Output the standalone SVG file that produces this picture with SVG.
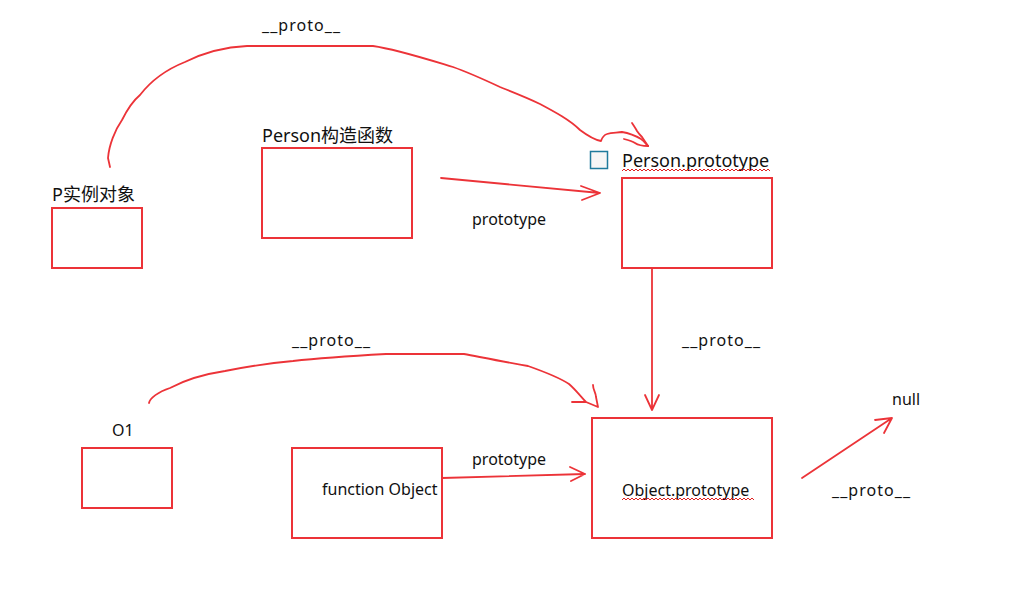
<svg xmlns="http://www.w3.org/2000/svg" width="1036" height="593" viewBox="0 0 1036 593">
<style>
.box{fill:none;stroke:#ec3338;stroke-width:2}
.ln{fill:none;stroke:#ec3338;stroke-width:1.8;stroke-linecap:round;stroke-linejoin:round}
.big{font-family:"Noto Sans","Noto Sans CJK SC",sans-serif;font-size:18px;fill:#111}
.sm{font-family:"Noto Sans","Liberation Sans",sans-serif;font-size:16px;fill:#111}
.wavy{fill:none;stroke:#e02020;stroke-width:1}
</style>
<defs>
<path id="wave4" d="m0,0 l1,-1.5 l1,1.5 l1,1.5 l1,-1.5"/>
</defs>
<rect width="1036" height="593" fill="#ffffff"/>
<g id="node-p">
<text class="big" x="52" y="201">P实例对象</text>
<rect class="box" x="52" y="208" width="90" height="60"/>
</g>
<g id="node-person">
<text class="big" x="262" y="142">Person构造函数</text>
<rect class="box" x="262" y="148" width="150" height="90"/>
</g>
<g id="node-person-prototype">
<rect x="590.5" y="151.5" width="17" height="17" fill="#f6f6f6" stroke="#1f7a9c" stroke-width="1.5"/>
<text class="big" x="622" y="167">Person.prototype</text>
<path class="wavy" d="M622,171 l2,-2 l2,2 l2,-2 l2,2 l2,-2 l2,2 l2,-2 l2,2 l2,-2 l2,2 l2,-2 l2,2 l2,-2 l2,2 l2,-2 l2,2 l2,-2 l2,2 l2,-2 l2,2 l2,-2 l2,2 l2,-2 l2,2 l2,-2 l2,2 l2,-2 l2,2 l2,-2 l2,2 l2,-2 l2,2 l2,-2 l2,2 l2,-2 l2,2 l2,-2 l2,2 l2,-2 l2,2 l2,-2 l2,2 l2,-2 l2,2 l2,-2 l2,2 l2,-2 l2,2 l2,-2 l2,2 l2,-2 l2,2 l2,-2 l2,2 l2,-2 l2,2 l2,-2 l2,2 l2,-2 l2,2 l2,-2 l2,2 l2,-2 l2,2 l2,-2 l2,2 l2,-2 l2,2 l2,-2 l2,2 l2,-2 l2,2 l2,-2 l2,2"/>
<rect class="box" x="622" y="178" width="150" height="90"/>
</g>
<g id="node-o1">
<text class="sm" x="112" y="436">O1</text>
<rect class="box" x="82" y="448" width="90" height="60"/>
</g>
<g id="node-function-object">
<rect class="box" x="292" y="448" width="150" height="90"/>
<text class="sm" x="322" y="495">function Object</text>
</g>
<g id="node-object-prototype">
<rect class="box" x="592" y="418" width="180" height="120"/>
<text class="sm" x="622" y="496">Object.prototype</text>
<path class="wavy" d="M622,500 l2,-2 l2,2 l2,-2 l2,2 l2,-2 l2,2 l2,-2 l2,2 l2,-2 l2,2 l2,-2 l2,2 l2,-2 l2,2 l2,-2 l2,2 l2,-2 l2,2 l2,-2 l2,2 l2,-2 l2,2 l2,-2 l2,2 l2,-2 l2,2 l2,-2 l2,2 l2,-2 l2,2 l2,-2 l2,2 l2,-2 l2,2 l2,-2 l2,2 l2,-2 l2,2 l2,-2 l2,2 l2,-2 l2,2 l2,-2 l2,2 l2,-2 l2,2 l2,-2 l2,2 l2,-2 l2,2 l2,-2 l2,2 l2,-2 l2,2 l2,-2 l2,2 l2,-2 l2,2 l2,-2 l2,2 l2,-2 l2,2 l2,-2 l2,2 l2,-2 l2,2"/>
</g>
<g id="node-null">
<text class="sm" x="892" y="405">null</text>
</g>
<g id="connectors">
<path class="ln" d="M110,167 L108,158 C109,145 115,130 122,120 C128,108 134,100 140,95 C150,82 165,70 185,62 C205,52 225,47 247,46 L373,46 C395,49 420,57 453,67 C470,73 485,80 500,87 C515,93 528,98 540,104 C555,112 570,120 580,130 C588,136 595,140 601,141 C602,138 604,135 607,134 C612,132 617,133 622,132 C628,133 636,136 641,139 C644,141 646,144 648,146"/>
<path class="ln" d="M624,139 C628,140 632,141 635,143 C638,145 640,146 648,146"/>
<path class="ln" d="M632,123 C634,126 636,129 637,131 C639,134 641,136 642,137 C644,140 646,143 648,146"/>
<text class="sm" x="262" y="31" textLength="78" lengthAdjust="spacing">__proto__</text>
<path class="ln" d="M441,178 L600,193 M581,186 L600,193 L582,200"/>
<text class="sm" x="472" y="225">prototype</text>
<path class="ln" d="M652,268 L652,410 M645,395 L652,410 L659,395"/>
<text class="sm" x="682" y="346" textLength="78" lengthAdjust="spacing">__proto__</text>
<path class="ln" d="M149,403 C150,398 158,392 170,388 C185,380 205,374 225,371 C245,367 270,363 293,361 C320,358 350,356 386,354 L464,354 C485,358 505,362 528,366 C545,372 560,378 569,384 C576,390 581,397 586,402 L598,407 M572,402 L586,402 M593,385 C593,390 596,393 596,397 L598,407"/>
<text class="sm" x="292" y="346" textLength="78" lengthAdjust="spacing">__proto__</text>
<path class="ln" d="M442,478 L585,474 M570,467 L585,474 L571,481"/>
<text class="sm" x="472" y="465">prototype</text>
<path class="ln" d="M802,478 L892,418 M875,420 L892,418 L884,433"/>
<text class="sm" x="832" y="496" textLength="78" lengthAdjust="spacing">__proto__</text>
</g>
</svg>
